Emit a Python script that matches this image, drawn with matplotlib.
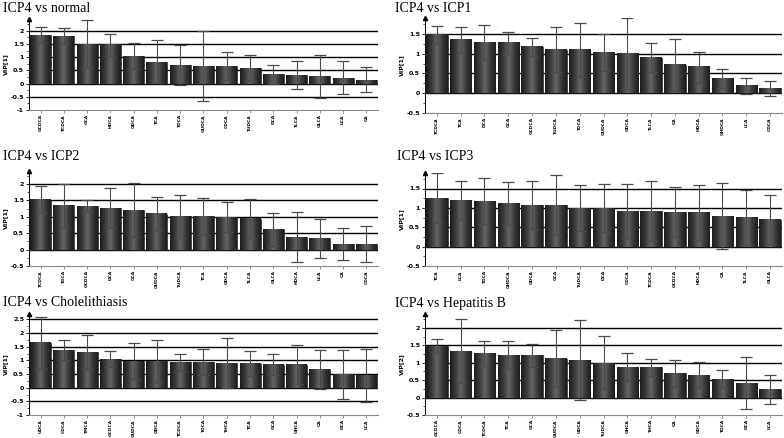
import matplotlib.pyplot as plt
import numpy as np
from matplotlib.colors import LinearSegmentedColormap

# VIP values and error ranges
labels_normal = ["GCDCA", "TCDCA", "GCA", "HDCA", "GDCA", "TCA", "TDCA", "GUDCA",
                 "CDCA", "TUDCA", "DCA", "TLCA", "GLCA", "LCA", "CA"]
vip_normal = [1.85, 1.80, 1.50, 1.48, 1.05, 0.83, 0.70, 0.66, 0.66, 0.60, 0.35, 0.32, 0.28, 0.22, 0.15]
err_normal = [0.30, 0.30, 0.90, 0.42, 0.50, 0.82, 0.75, 1.33, 0.53, 0.50, 0.37, 0.52, 0.81, 0.63, 0.47]

labels_icp1 = ["TCDCA", "TCA", "DCA", "GCA", "GCDCA", "TUDCA", "TDCA", "GUDCA",
               "GDCA", "TLCA", "CA", "HDCA", "GHDCA", "LCA", "CDCA"]
vip_icp1 = [1.47, 1.35, 1.28, 1.27, 1.17, 1.10, 1.10, 1.03, 1.00, 0.90, 0.72, 0.66, 0.37, 0.18, 0.12]
err_icp1 = [0.23, 0.33, 0.45, 0.27, 0.22, 0.57, 0.68, 0.47, 0.90, 0.37, 0.66, 0.39, 0.25, 0.21, 0.20]

labels_icp2 = ["TCDCA", "TDCA", "GCDCA", "DCA", "GCA", "GUDCA", "TUDCA", "TCA",
               "GDCA", "TLCA", "GLCA", "HDCA", "LCA", "CA", "CDCA"]
vip_icp2 = [1.53, 1.35, 1.33, 1.27, 1.22, 1.10, 1.02, 1.02, 1.00, 0.95, 0.62, 0.38, 0.35, 0.17, 0.16]
err_icp2 = [0.42, 0.65, 0.19, 0.61, 0.82, 0.51, 0.65, 0.57, 0.45, 0.59, 0.50, 0.76, 0.60, 0.49, 0.55]

labels_icp3 = ["TCA", "LCA", "TDCA", "GHDCA", "GDCA", "GCA", "TUDCA", "DCA",
               "CDCA", "TCDCA", "GCDCA", "HDCA", "CA", "TLCA", "GLCA"]
vip_icp3 = [1.25, 1.20, 1.18, 1.12, 1.08, 1.08, 1.00, 1.00, 0.92, 0.92, 0.90, 0.88, 0.80, 0.75, 0.70]
err_icp3 = [0.65, 0.50, 0.60, 0.55, 0.62, 0.78, 0.60, 0.61, 0.70, 0.77, 0.65, 0.72, 0.85, 0.71, 0.63]

labels_chole = ["UDCA", "CDCA", "TMCA", "GCDCA", "GUDCA", "GDCA", "TCDCA", "TDCA",
                "THCA", "TCA", "GCA", "GHCA", "CA", "DCA", "LCA"]
vip_chole = [1.65, 1.38, 1.30, 1.05, 0.97, 0.97, 0.93, 0.93, 0.90, 0.88, 0.85, 0.85, 0.67, 0.48, 0.45]
err_chole = [0.95, 0.36, 0.63, 0.30, 0.66, 0.77, 0.32, 0.48, 0.92, 0.45, 0.38, 0.70, 0.71, 0.91, 0.97]

labels_hepb = ["GCDCA", "CDCA", "TCDCA", "TCA", "GCA", "GUDCA", "UDCA", "TUDCA",
               "GHCA", "THCA", "CA", "GDCA", "TDCA", "DCA", "LCA"]
vip_hepb = [1.47, 1.33, 1.27, 1.23, 1.22, 1.12, 1.08, 1.00, 0.88, 0.87, 0.70, 0.65, 0.53, 0.42, 0.24]
err_hepb = [0.20, 0.92, 0.35, 0.40, 0.33, 0.82, 1.15, 0.76, 0.40, 0.25, 0.39, 0.37, 0.25, 0.74, 0.41]

titles = ["ICP4 vs normal", "ICP4 vs ICP1", "ICP4 vs ICP2",
          "ICP4 vs ICP3", "ICP4 vs Cholelithiasis", "ICP4 vs Hepatitis B"]
ylabels = ["VIP[1]", "VIP[1]", "VIP[1]", "VIP[1]", "VIP[1]", "VIP[2]"]
data = [(labels_normal, vip_normal, err_normal), (labels_icp1, vip_icp1, err_icp1),
        (labels_icp2, vip_icp2, err_icp2), (labels_icp3, vip_icp3, err_icp3),
        (labels_chole, vip_chole, err_chole), (labels_hepb, vip_hepb, err_hepb)]

# layout in pixels: (left, top, right, bottom), y limits, title position
W, H = 784, 438
boxes = [(29, 19, 378, 110), (425, 18, 782, 113),
         (29, 171, 378, 266), (425, 173, 782, 266),
         (29, 314, 378, 415), (425, 314, 782, 415)]
ylims = [(-1, 2.45), (-0.5, 1.9), (-0.5, 2.4), (-0.5, 1.9), (-1, 2.7), (-0.5, 2.4)]
title_pos = [(3, 8), (395, 8), (3, 157), (397, 156), (3, 303), (395, 303)]

bar_cmap = LinearSegmentedColormap.from_list("cyl", ["#1c1c1c", "#3a3a3a", "#666666", "#3a3a3a", "#1c1c1c"])
grad = np.linspace(0, 1, 64).reshape(1, -1)

fig = plt.figure(figsize=(W / 100, H / 100), dpi=100)

for i, (labels, vip, err) in enumerate(data):
    l, t, r, b = boxes[i]
    ax = fig.add_axes([l / W, 1 - b / H, (r - l) / W, (b - t) / H])
    x = np.arange(len(labels))
    ylo, yhi = ylims[i]

    ticks = np.arange(np.ceil(ylo * 2) / 2, yhi + 0.01, 0.5)
    for tv in ticks:
        if tv > ylo + 1e-6:
            ax.axhline(tv, color="black", lw=1.0, zorder=1)

    bars = ax.bar(x, vip, width=0.9, color="#333333", edgecolor="#111111", lw=0.4, zorder=2)
    for bar in bars:
        bx, bw, bh = bar.get_x(), bar.get_width(), bar.get_height()
        ax.imshow(grad, cmap=bar_cmap, aspect="auto", extent=(bx, bx + bw, 0, bh),
                  zorder=2.5, interpolation="bicubic")
    ax.set_xlim(-0.5, len(labels) - 0.5)
    ax.set_ylim(ylo, yhi)

    ax.errorbar(x, vip, yerr=err, fmt="none", ecolor="#4a4a4a", elinewidth=0.8,
                capsize=4, capthick=0.9, zorder=3)

    ax.set_yticks(ticks)
    ax.set_yticklabels([("%g" % v) for v in ticks], fontsize=4.5, fontweight="bold")
    ax.set_yticks(np.arange(ylo, yhi, 0.25), minor=True)
    ax.tick_params(axis="y", length=2, width=0.6, pad=1.5)
    ax.tick_params(axis="y", which="minor", length=1.2, width=0.5)
    ax.set_xticks(x)
    ax.set_xticklabels(labels, rotation=90, fontsize=3.2, fontweight="bold")
    ax.tick_params(axis="x", length=2, width=0.5, pad=1.0, color="#666666")
    ax.set_ylabel(ylabels[i], fontsize=4.5, fontweight="bold", labelpad=2)

    ax.spines["top"].set_visible(False)
    ax.spines["right"].set_visible(False)
    ax.spines["left"].set_linewidth(0.7)
    ax.spines["bottom"].set_color("#888888")
    ax.spines["bottom"].set_linewidth(0.8)
    ax.plot(0, 1, marker="^", color="black", ms=3, transform=ax.transAxes, clip_on=False)

    tx, ty = title_pos[i]
    fig.text(tx / W, 1 - ty / H, titles[i], fontsize=10, family="Liberation Serif",
             ha="left", va="center")

fig.savefig("out.png", dpi=100)
